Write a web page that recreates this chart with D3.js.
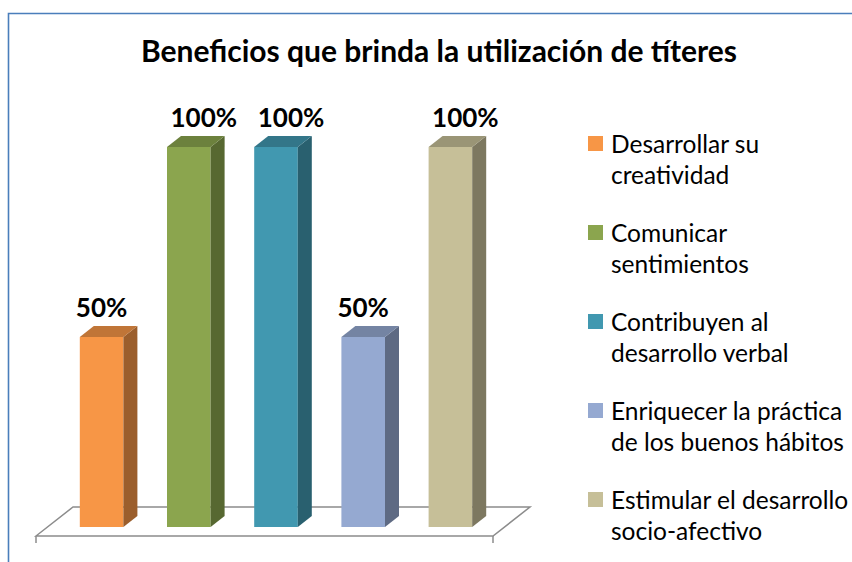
<!DOCTYPE html>
<html>
<head>
<meta charset="utf-8">
<script src="https://cdn.jsdelivr.net/npm/d3@7"></script>
<style>
  body { margin: 0; background: #fff; }
  svg { display: block; font-family: Lato, "Open Sans", sans-serif; }
</style>
</head>
<body>
<div id="chart"></div>
<script>
// chart data
const title = "Beneficios que brinda la utilización de títeres";
const categories = [
  "Desarrollar su creatividad",
  "Comunicar sentimientos",
  "Contribuyen al desarrollo verbal",
  "Enriquecer la práctica de los buenos hábitos",
  "Estimular el desarrollo socio-afectivo"
];
const legendLines = [
  ["Desarrollar su", "creatividad"],
  ["Comunicar", "sentimientos"],
  ["Contribuyen al", "desarrollo verbal"],
  ["Enriquecer la práctica", "de los buenos hábitos"],
  ["Estimular el desarrollo", "socio-afectivo"]
];
const values = [50, 100, 100, 50, 100];
const colors = ["#F79646", "#8BA54E", "#4198B0", "#95A9D1", "#C6BF98"];

const width = 852, height = 562;
const depth = {x: 14, y: -11};

const svg = d3.select("#chart").append("svg")
  .attr("width", width)
  .attr("height", height);

// chart border
svg.append("path")
  .attr("d", `M8.5,${height} V13.5 H${width}`)
  .attr("fill", "none")
  .attr("stroke", "#4A7EBB")
  .attr("stroke-width", 1.6);

svg.append("text")
  .attr("x", 439).attr("y", 62)
  .attr("text-anchor", "middle")
  .attr("font-weight", "bold")
  .attr("font-size", 30)
  .attr("fill", "#000")
  .text(title);

const x = d3.scaleBand()
  .domain(categories)
  .range([58, 494])
  .paddingInner(0.5)
  .paddingOuter(0.25);

const y = d3.scaleLinear()
  .domain([0, 100])
  .range([527, 147]);

// floor
const fl = x.range()[0] - 22, fr = x.range()[1] - 1, fy = y(0) + 9;
const floorDepth = {x: 37, y: -29};
svg.append("path")
  .attr("d", `M${fl},${fy} L${fl + floorDepth.x},${fy + floorDepth.y} L${fr + floorDepth.x},${fy + floorDepth.y} L${fr},${fy} Z`)
  .attr("fill", "#fff")
  .attr("stroke", "#8C8C8C")
  .attr("stroke-width", 1.5);
svg.selectAll(".tick-mark").data([fl, fr]).join("line")
  .attr("x1", d => d).attr("x2", d => d)
  .attr("y1", fy).attr("y2", fy + 7)
  .attr("stroke", "#8C8C8C")
  .attr("stroke-width", 1.5);

// 3d bars
const bars = svg.selectAll(".bar")
  .data(categories.map((c, i) => ({c, v: values[i], col: colors[i]})))
  .join("g").attr("class", "bar");

bars.append("rect")
  .attr("x", d => x(d.c))
  .attr("y", d => y(d.v))
  .attr("width", x.bandwidth())
  .attr("height", d => y(0) - y(d.v))
  .attr("fill", d => d.col);

bars.append("path")
  .attr("d", d => {
    const x1 = x(d.c) + x.bandwidth(), t = y(d.v), b = y(0);
    return `M${x1},${t} L${x1 + depth.x},${t + depth.y} L${x1 + depth.x},${b + depth.y} L${x1},${b} Z`;
  })
  .attr("fill", d => d3.color(d.col).darker(1.3));

bars.append("path")
  .attr("d", d => {
    const x0 = x(d.c), x1 = x0 + x.bandwidth(), t = y(d.v);
    return `M${x0},${t} L${x0 + depth.x},${t + depth.y} L${x1 + depth.x},${t + depth.y} L${x1},${t} Z`;
  })
  .attr("fill", d => d3.color(d.col).darker(0.7));

bars.append("text")
  .attr("x", d => x(d.c) + x.bandwidth() / 2 + (d.v - 50) / 50 * 15)
  .attr("y", d => y(d.v) + depth.y - 9)
  .attr("text-anchor", "middle")
  .attr("font-weight", "bold")
  .attr("font-size", 26)
  .attr("fill", "#000")
  .text(d => d.v + "%");

// legend
const legend = svg.selectAll(".legend")
  .data(legendLines)
  .join("g").attr("class", "legend")
  .attr("transform", (d, i) => `translate(588,${136 + i * 89})`);

legend.append("rect")
  .attr("width", 15).attr("height", 15)
  .attr("fill", (d, i) => colors[i]);

legend.append("text")
  .attr("font-size", 24.5)
  .attr("fill", "#000")
  .selectAll("tspan").data(d => d).join("tspan")
  .attr("x", 23)
  .attr("y", (d, i) => 16.5 + i * 31)
  .text(d => d);
</script>
</body>
</html>
